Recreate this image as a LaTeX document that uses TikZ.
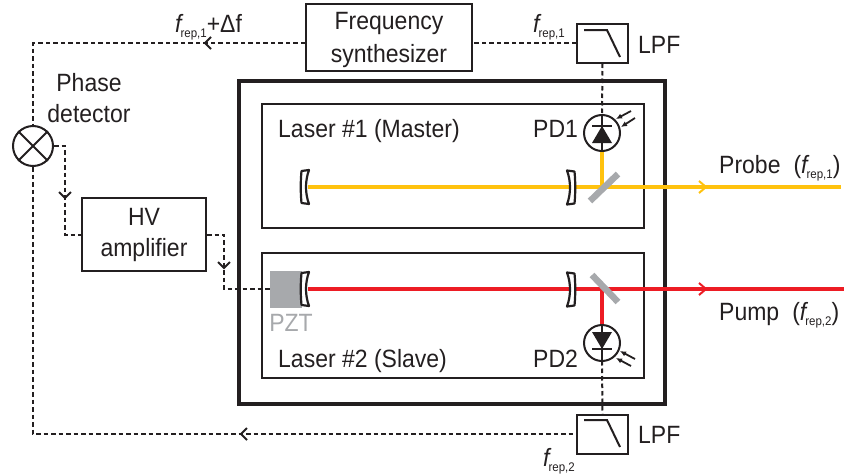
\documentclass[tikz,border=0pt]{standalone}
\usepackage{fontspec}
\setmainfont[FakeStretch=0.92]{Liberation Sans}
\usetikzlibrary{calc,arrows.meta}
\definecolor{ink}{HTML}{231F20}
\definecolor{beamY}{HTML}{FFC20E}
\definecolor{beamR}{HTML}{ED1C24}
\definecolor{pztgrey}{HTML}{A7A9AC}
\newcommand{\frp}[1]{{\fontsize{25}{26}\selectfont\itshape f}\kern-1pt\raisebox{-5pt}{\fontsize{12.5}{15}\selectfont rep,#1}}
\tikzset{
  x=1pt,y=-1pt,
  lbl/.style={font=\fontsize{25}{31}\selectfont,text=ink,inner sep=0pt,align=center},
  blockbox/.style={draw=ink,line width=2pt,fill=white,inner sep=0pt,lbl},
  cavity/.style={draw=ink,line width=2.2pt,fill=none,inner sep=0pt},
  sig/.style={draw=ink,line width=2pt,dash pattern=on 4.5pt off 3pt},
  chevron/.pic={\draw[ink,line width=2pt,solid] (-6,-6) -- (0,0) -- (-6,6);},
  mirrorL/.pic={\draw[ink,line width=2.2pt,fill=white,line join=round] (-2.5,-16) -- (5,-17) .. controls (1,-6) and (1,6) .. (5,17) -- (-2.5,16) .. controls (-3.5,6) and (-3.5,-6) .. cycle;},
  beamsplit/.style={draw=pztgrey,line width=6.5pt},
  beamY/.style={draw=beamY,line width=4.5pt},
  beamR/.style={draw=beamR,line width=4.5pt},
  pdnode/.style={circle,draw=ink,line width=2pt,minimum size=36pt,inner sep=0pt},
  lightray/.style={draw=ink,line width=1.8pt,-{Latex[length=6pt,width=5.5pt]}},
}
\begin{document}
\begin{tikzpicture}
\useasboundingbox (0,0) rectangle (844,474);
% enclosures
\node[cavity,line width=3.6pt,minimum width=426pt,minimum height=323pt] (outer) at (452,242.5) {};
\node[cavity,minimum width=382pt,minimum height=124pt] (las1) at (453,166) {};
\node[cavity,minimum width=382pt,minimum height=125pt] (las2) at (453,315.5) {};
% blocks
\node[blockbox,minimum width=166pt,minimum height=67pt] (synth) at (389,37.5) {\rule{0pt}{22pt}Frequency\\[1.5pt]synthesizer};
\node[blockbox,minimum width=124pt,minimum height=73pt] (hv) at (144,234.5) {HV\\amplifier};
\node[blockbox,minimum width=51pt,minimum height=39pt] (lpfa) at (602.5,43) {};
\node[blockbox,minimum width=51pt,minimum height=39pt] (lpfb) at (602.5,434) {};
\draw[ink,line width=2pt] (584,30) -- (607,30) -- (620,57);
\draw[ink,line width=2pt] (584,420) -- (607,420) -- (620,447);
\node[circle,draw=ink,line width=2pt,minimum size=40pt,inner sep=0pt] (pdet) at (33,146) {};
\draw[ink,line width=2pt] (pdet.45) -- (pdet.225) (pdet.135) -- (pdet.315);
\node[fill=pztgrey,minimum width=32pt,minimum height=37pt,inner sep=0pt] (pzt) at (286,289) {};
% signal paths
\draw[sig] (lpfa.west) -- (synth.east |- lpfa.west);
\draw[sig] (lpfa.south) -- (602,115);
\draw[sig] (602,361) -- (lpfb.north);
\draw[sig] (synth.west |- lpfa.west) -- (pdet.north |- lpfa.west) -- (pdet.north);
\draw[sig] (pdet.south) -- (pdet.south |- lpfb.west) -- (lpfb.west);
\draw[sig] (pdet.east) -- (65,146) -- (65,234.5) -- (hv.west);
\draw[sig] (hv.east) -- (224,234.5) -- (224,289) -- (pzt.west);
\pic[rotate=180] at (205,43) {chevron};
\pic[rotate=180] at (241,434) {chevron};
\pic[rotate=-90] at (65,198) {chevron};
\pic[rotate=-90] at (224,268) {chevron};
% beams
\draw[beamY] (308,187) -- (841,187);
\draw[beamY] (602,187) -- (602,151);
\draw[beamR] (308,289) -- (844,289);
\draw[beamR] (602,289) -- (602,325);
\draw[beamsplit] (590,201) -- (618,174);
\draw[beamsplit] (592,275) -- (618,302);
\draw[draw=beamY,line width=2pt] (699,181) -- (706,187) -- (699,193);
\draw[draw=beamR,line width=2pt] (699,283) -- (706,289) -- (699,295);
% mirrors
\pic at (304,187) {mirrorL};
\pic[xscale=-1] at (572,187.5) {mirrorL};
\pic at (304,289) {mirrorL};
\pic[xscale=-1] at (572,289.5) {mirrorL};
% photodiodes
\node[pdnode] (pda) at (602,133) {};
\node[pdnode] (pdb) at (602,343) {};
\draw[ink,line width=1.6pt] (pda.north) -- (pda.south);
\draw[ink,line width=1.6pt] (pdb.north) -- (pdb.south);
\draw[ink,line width=2pt] (592,126) -- (612,126);
\fill[ink] (602,126) -- (592,143) -- (612,143) -- cycle;
\draw[ink,line width=2pt] (592,349) -- (612,349);
\fill[ink] (602,349) -- (592,332) -- (612,332) -- cycle;
\draw[lightray] (631,111) -- (616,119);
\draw[lightray] (635,118) -- (621,127);
\draw[lightray] (635,359) -- (620,351);
\draw[lightray] (631,366) -- (616,358);
% labels
\node[lbl,anchor=west] (t1) at (278,131) {Laser \#1 (Master)};
\node[lbl,anchor=west] (t2) at (278,361) {Laser \#2 (Slave)};
\node[lbl,anchor=west] (t3) at (533,129) {PD1};
\node[lbl,anchor=west] (t4) at (533,359) {PD2};
\node[lbl,anchor=west] (t5) at (638,45) {LPF};
\node[lbl,anchor=west] (t6) at (638,435) {LPF};
\node[lbl,text=pztgrey] (t7) at (291,323) {PZT};
\node[lbl] (t8) at (89,98) {Phase\\detector};
\node[lbl,anchor=west] (t9) at (719,168) {Probe\hspace{13pt}(\frp{1})};
\node[lbl,anchor=west] (t10) at (719,315) {Pump\hspace{13pt}(\frp{2})};
\node[lbl,anchor=west] (t11) at (533,27) {\frp{1}};
\node[lbl,anchor=west] (t12) at (543,461) {\frp{2}};
\node[lbl,anchor=west] (t13) at (175,27) {\frp{1}+Δf};
\end{tikzpicture}
\end{document}
